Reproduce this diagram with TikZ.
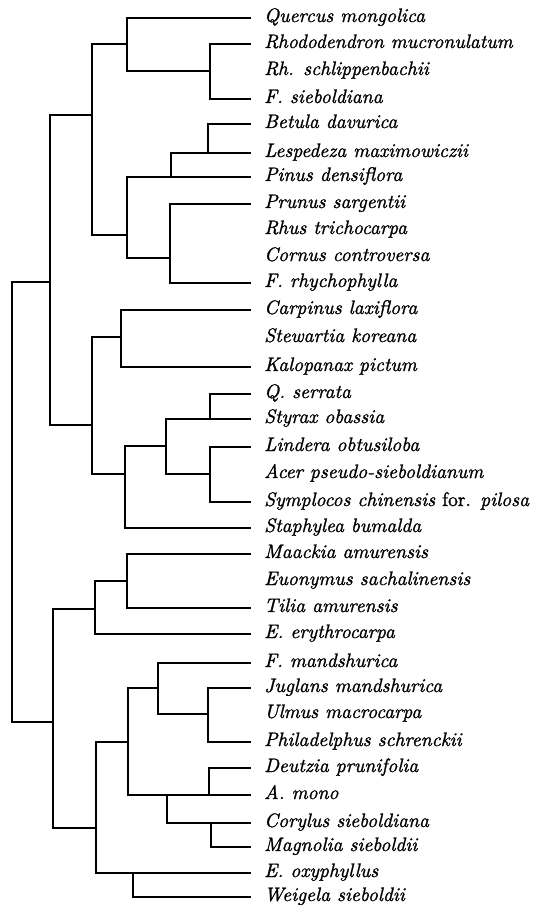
\documentclass[tikz,border=0pt]{standalone}
\usepackage{fontspec}
\newfontfamily\lblfont{lmroman10-italic.otf}[FakeBold=1.2]
\newfontfamily\lblup{lmroman10-regular.otf}[FakeBold=1.2]
\begin{document}
\begin{tikzpicture}[x=1pt,y=-1pt,
  br/.style={line width=2pt,line cap=rect,line join=miter},
  lbl/.style={anchor=base west,inner sep=0pt,font=\fontsize{19.5}{22}\lblfont}]
\useasboundingbox (0,0) rectangle (546,909);
% leaf tips
\foreach \i/\y in {0/18,1/44,2/71,3/99,4/124,5/153,6/177,7/204,8/230,9/257,10/283,
  11/310,12/338,13/367,14/394,15/419,16/447,17/474,18/502,19/528,20/554,21/581,22/608,
  23/634,24/663,25/688,26/714,27/742,28/768,29/795,30/823,31/847,32/873,33/897}
  {\coordinate (l\i) at (250,\y);}
% labels
\node[lbl] (n0)  at ([xshift=14pt,yshift=-4pt]l0)  {Quercus mongolica};
\node[lbl] (n1)  at ([xshift=14pt,yshift=-4pt]l1)  {Rhododendron mucronulatum};
\node[lbl] (n2)  at ([xshift=14pt,yshift=-4pt]l2)  {Rh. schlippenbachii};
\node[lbl] (n3)  at ([xshift=14pt,yshift=-4pt]l3)  {F. sieboldiana};
\node[lbl] (n4)  at ([xshift=14pt,yshift=-4pt]l4)  {Betula davurica};
\node[lbl] (n5)  at ([xshift=14pt,yshift=-4pt]l5)  {Lespedeza maximowiczii};
\node[lbl] (n6)  at ([xshift=14pt,yshift=-4pt]l6)  {Pinus densiflora};
\node[lbl] (n7)  at ([xshift=14pt,yshift=-4pt]l7)  {Prunus sargentii};
\node[lbl] (n8)  at ([xshift=14pt,yshift=-4pt]l8)  {Rhus trichocarpa};
\node[lbl] (n9)  at ([xshift=14pt,yshift=-4pt]l9)  {Cornus controversa};
\node[lbl] (n10) at ([xshift=14pt,yshift=-4pt]l10) {F. rhychophylla};
\node[lbl] (n11) at ([xshift=14pt,yshift=-4pt]l11) {Carpinus laxiflora};
\node[lbl] (n12) at ([xshift=14pt,yshift=-4pt]l12) {Stewartia koreana};
\node[lbl] (n13) at ([xshift=14pt,yshift=-4pt]l13) {Kalopanax pictum};
\node[lbl] (n14) at ([xshift=14pt,yshift=-4pt]l14) {Q. serrata};
\node[lbl] (n15) at ([xshift=14pt,yshift=-4pt]l15) {Styrax obassia};
\node[lbl] (n16) at ([xshift=14pt,yshift=-4pt]l16) {Lindera obtusiloba};
\node[lbl] (n17) at ([xshift=14pt,yshift=-4pt]l17) {Acer pseudo-sieboldianum};
\node[lbl] (n18) at ([xshift=14pt,yshift=-4pt]l18) {Symplocos chinensis {\lblup for.} pilosa};
\node[lbl] (n19) at ([xshift=14pt,yshift=-4pt]l19) {Staphylea bumalda};
\node[lbl] (n20) at ([xshift=14pt,yshift=-4pt]l20) {Maackia amurensis};
\node[lbl] (n21) at ([xshift=14pt,yshift=-4pt]l21) {Euonymus sachalinensis};
\node[lbl] (n22) at ([xshift=14pt,yshift=-4pt]l22) {Tilia amurensis};
\node[lbl] (n23) at ([xshift=14pt,yshift=-4pt]l23) {E. erythrocarpa};
\node[lbl] (n24) at ([xshift=14pt,yshift=-4pt]l24) {F. mandshurica};
\node[lbl] (n25) at ([xshift=14pt,yshift=-4pt]l25) {Juglans mandshurica};
\node[lbl] (n26) at ([xshift=14pt,yshift=-4pt]l26) {Ulmus macrocarpa};
\node[lbl] (n27) at ([xshift=14pt,yshift=-4pt]l27) {Philadelphus schrenckii};
\node[lbl] (n28) at ([xshift=14pt,yshift=-4pt]l28) {Deutzia prunifolia};
\node[lbl] (n29) at ([xshift=14pt,yshift=-4pt]l29) {A. mono};
\node[lbl] (n30) at ([xshift=14pt,yshift=-4pt]l30) {Corylus sieboldiana};
\node[lbl] (n31) at ([xshift=14pt,yshift=-4pt]l31) {Magnolia sieboldii};
\node[lbl] (n32) at ([xshift=14pt,yshift=-4pt]l32) {E. oxyphyllus};
\node[lbl] (n33) at ([xshift=14pt,yshift=-4pt]l33) {Weigela sieboldii};
% internal nodes
\coordinate (c1)   at (210,71);
\coordinate (c2)   at (127,44);
\coordinate (c3a)  at (208,153);
\coordinate (c3b)  at (171,177);
\coordinate (c3d)  at (170,258);
\coordinate (c3c)  at (127,235);
\coordinate (c4)   at (92,115);
\coordinate (c5)   at (50,282);
\coordinate (c6)   at (121,337);
\coordinate (c7a)  at (210,419);
\coordinate (c7c)  at (210,474);
\coordinate (c7b)  at (166,446);
\coordinate (c8)   at (125,474);
\coordinate (c9)   at (92,425);
\coordinate (root) at (12,502);
\coordinate (c10)  at (127,581);
\coordinate (c11)  at (95,609);
\coordinate (c13)  at (53,722);
\coordinate (c12a) at (208,714);
\coordinate (c12b) at (158,688);
\coordinate (c14a) at (209,795);
\coordinate (c14b) at (211,823);
\coordinate (c14c) at (167,795);
\coordinate (c15)  at (128,742);
\coordinate (c16)  at (133,873);
\coordinate (c17)  at (96,828);
% branches
\begin{scope}[br]
\draw (l1) -| (c1) |- (l3);
\draw (l0) -| (c2) |- (c1);
\draw (l4) -| (c3a);
\draw (l5) -| (c3b);
\draw (l7) -| (c3d) |- (l10);
\draw (l6) -| (c3c) |- (c3d);
\draw (c2) -| (c4) |- (c3c);
\draw (l11) -| (c6) |- (l13);
\draw (l14) -| (c7a);
\draw (l16) -| (c7c) |- (l18);
\draw (l15) -| (c7b) |- (c7c);
\draw (c7b) -| (c8) |- (l19);
\draw (c6) -| (c9) |- (c8);
\draw (c4) -| (c5) |- (c9);
\draw (l20) -| (c10) |- (l22);
\draw (c10) -| (c11) |- (l23);
\draw (l25) -| (c12a) |- (l27);
\draw (l24) -| (c12b) |- (c12a);
\draw (l28) -| (c14a);
\draw (l31) -| (c14b);
\draw (l30) -| (c14c);
\draw (c12b) -| (c15) |- (l29);
\draw (l33) -| (c16);
\draw (c15) -| (c17) |- (l32);
\draw (c11) -| (c13) |- (c17);
\draw (c5) -| (root) |- (c13);
\end{scope}
\end{tikzpicture}
\end{document}
